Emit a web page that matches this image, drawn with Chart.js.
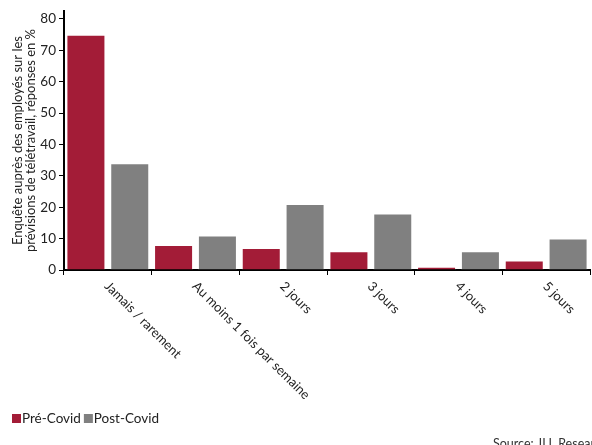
<!DOCTYPE html>
<html>
<head>
<meta charset="utf-8">
<script src="https://cdn.jsdelivr.net/npm/chart.js@4/dist/chart.umd.min.js"></script>
<style>
  html, body { margin: 0; padding: 0; background: #fff; }
  #wrap { width: 592px; height: 445px; position: relative; }
</style>
</head>
<body>
<div id="wrap"><canvas id="chart"></canvas></div>
<script>
const categories = ['Jamais / rarement', 'Au moins 1 fois par semaine', '2 jours', '3 jours', '4 jours', '5 jours'];
const preCovid = [75, 8, 7, 6, 1, 3];
const postCovid = [34, 11, 21, 18, 6, 10];
const seriesNames = ['Pré-Covid', 'Post-Covid'];
const yTicks = [0, 10, 20, 30, 40, 50, 60, 70, 80];
const yTitle = ['Enquête auprès des employés sur les', 'prévisions de télétravail, réponses en %'];
const sourceText = 'Source: JLL Research';

const FONT = 'Lato, "Open Sans", sans-serif';
const RED = '#A31C37';
const GREY = '#808080';

// draws the rotated category labels, the legend and the source note
const extrasPlugin = {
  id: 'extras',
  afterDraw(chart) {
    const { ctx } = chart;
    const xs = chart.scales.x;
    ctx.save();
    ctx.fillStyle = '#222';
    ctx.font = '13px ' + FONT;
    ctx.textAlign = 'left';
    ctx.textBaseline = 'middle';
    categories.forEach((label, i) => {
      const px = xs.getPixelForValue(i);
      ctx.save();
      ctx.translate(px - 1, xs.bottom + 9);
      ctx.rotate(Math.PI / 4);
      ctx.fillText(label, 0, 0);
      ctx.restore();
    });

    // legend
    let lx = 12;
    const ly = 419;
    ctx.font = '13.5px ' + FONT;
    chart.data.datasets.forEach((ds) => {
      ctx.fillStyle = ds.backgroundColor;
      ctx.fillRect(lx, ly - 5, 9, 9);
      lx += 10;
      ctx.fillStyle = '#222';
      ctx.fillText(ds.label, lx, ly);
      lx += ctx.measureText(ds.label).width + 3;
    });

    // source
    ctx.font = '12.5px ' + FONT;
    ctx.fillStyle = '#333';
    ctx.textBaseline = 'alphabetic';
    ctx.fillText(sourceText, 493, 448);
    ctx.restore();
  }
};

new Chart(document.getElementById('chart'), {
  type: 'bar',
  data: {
    labels: categories,
    datasets: [
      { label: seriesNames[0], data: preCovid, backgroundColor: RED },
      { label: seriesNames[1], data: postCovid, backgroundColor: GREY }
    ]
  },
  options: {
    responsive: true,
    maintainAspectRatio: false,
    animation: false,
    layout: { padding: { top: 11, right: 2, bottom: 170, left: 0 } },
    datasets: {
      bar: {
        categoryPercentage: 1,
        barPercentage: 0.89,
        borderWidth: 1,
        borderColor: 'rgba(255,255,255,0.45)'
      }
    },
    plugins: {
      legend: { display: false },
      tooltip: { enabled: false }
    },
    scales: {
      x: {
        offset: true,
        grid: {
          offset: true,
          display: true,
          drawOnChartArea: false,
          drawTicks: true,
          tickLength: 5,
          color: '#000'
        },
        border: { display: true, color: '#000', width: 2 },
        ticks: { display: false },
        afterFit(scale) { scale.height = 5; }
      },
      y: {
        min: 0,
        max: 82.5,
        afterBuildTicks(scale) {
          scale.ticks = yTicks.map(v => ({ value: v }));
        },
        ticks: {
          color: '#222',
          font: { family: FONT, size: 13.5 },
          padding: 3
        },
        grid: {
          display: true,
          drawOnChartArea: false,
          drawTicks: true,
          tickLength: 5,
          color: '#000'
        },
        border: { display: true, color: '#000', width: 2 },
        title: {
          display: true,
          text: yTitle,
          color: '#222',
          font: { family: FONT, size: 13, lineHeight: 1.0 },
          padding: { top: 11, bottom: 0 }
        },
        afterFit(scale) { scale.width = 64; }
      }
    }
  },
  plugins: [extrasPlugin]
});
</script>
</body>
</html>
